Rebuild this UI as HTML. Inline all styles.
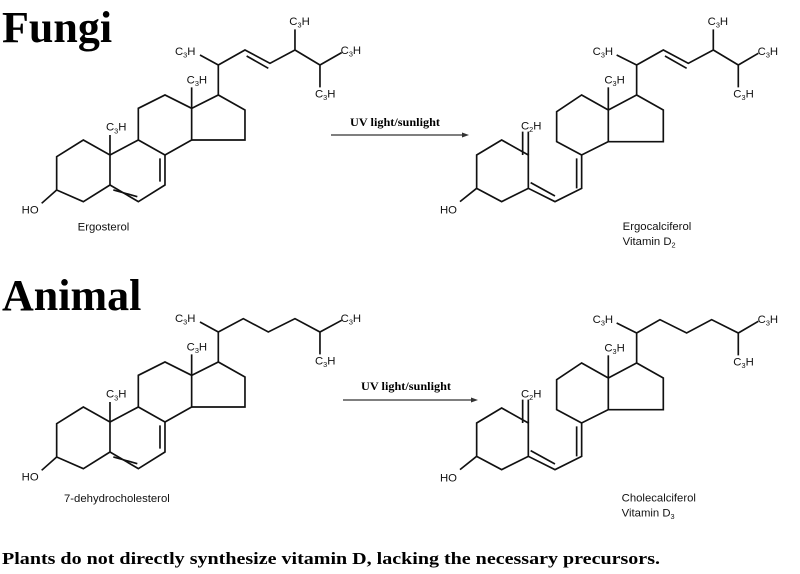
<!DOCTYPE html>
<html><head><meta charset="utf-8"><style>
html,body{margin:0;padding:0;background:#fff}
svg{display:block}
.l{font-family:"Liberation Sans",sans-serif;font-size:34px;fill:#111}
.s{font-size:22px}
.b{font-family:"Liberation Serif",serif;font-weight:bold;fill:#000}
path{fill:none;stroke:#111;stroke-width:5;stroke-linejoin:miter}
</style></head><body>
<svg width="800" height="574" viewBox="0 0 800 574" xmlns="http://www.w3.org/2000/svg">
<rect width="800" height="574" fill="#fff"/>
<text class="b" x="2" y="42" font-size="44">Fungi</text>
<text class="b" x="2" y="310" font-size="44">Animal</text>
<text class="b" x="2" y="564" font-size="17" textLength="658" lengthAdjust="spacingAndGlyphs">Plants do not directly synthesize vitamin D, lacking the necessary precursors.</text>

<!-- arrows -->
<text class="b" x="350" y="126" font-size="11.5" textLength="90" lengthAdjust="spacingAndGlyphs">UV light/sunlight</text>
<line x1="331" y1="135" x2="464" y2="135" stroke="#333" stroke-width="1.2"/>
<polygon points="469,135 462,132.5 462,137.5" fill="#333"/>
<text class="b" x="361" y="390" font-size="11.5" textLength="90" lengthAdjust="spacingAndGlyphs">UV light/sunlight</text>
<line x1="343" y1="400" x2="473" y2="400" stroke="#333" stroke-width="1.2"/>
<polygon points="478,400 471,397.5 471,402.5" fill="#333"/>

<!-- Ergosterol -->
<g transform="scale(0.3333)">
<path d="M170,470 L250,420 L330,465 L330,555 L250,605 L170,570 Z"/>
<path d="M170,570 L125,610"/>
<path d="M330,465 L415,420 L495,465 L495,555 L415,605 L330,555"/>
<path d="M340,570 L412,590 M480,475 L480,545"/>
<path d="M415,420 L415,325 L495,285 L575,325 L575,420 L495,465"/>
<path d="M575,325 L655,285 L735,330 L735,420 L575,420"/>
<path d="M575,325 L575,262 M330,465 L330,405"/>
<path d="M655,285 L655,195 L600,165 M655,195 L735,150 L810,190 L885,150 L885,88 M885,150 L960,195 L1025,158 M960,195 L960,262"/>
<path d="M740,168 L805,205"/>
<text class="l" x="65" y="640">HO</text>
<text class="l" x="318" y="392">C<tspan class="s" dy="8">3</tspan><tspan dy="-8">H</tspan></text>
<text class="l" x="560" y="250">C<tspan class="s" dy="8">3</tspan><tspan dy="-8">H</tspan></text>
<text class="l" x="525" y="165">C<tspan class="s" dy="8">3</tspan><tspan dy="-8">H</tspan></text>
<text class="l" x="868" y="75">C<tspan class="s" dy="8">3</tspan><tspan dy="-8">H</tspan></text>
<text class="l" x="1022" y="162">C<tspan class="s" dy="8">3</tspan><tspan dy="-8">H</tspan></text>
<text class="l" x="945" y="292">C<tspan class="s" dy="8">3</tspan><tspan dy="-8">H</tspan></text>
<text class="l" x="233" y="692">Ergosterol</text>
</g>

<!-- Ergocalciferol -->
<g transform="translate(400,0) scale(0.3333)">
<path d="M230,465 L305,420 L385,465 L385,565 L305,605 L230,565 Z"/>
<path d="M230,565 L180,605"/>
<path d="M385,465 L385,395 M368,465 L368,395"/>
<path d="M385,565 L465,605 L545,565 L545,465"/>
<path d="M392,548 L465,588 M530,565 L530,475"/>
<path d="M545,465 L470,425 L470,335 L545,285 L625,330 L625,425 Z"/>
<path d="M625,330 L710,285 L790,330 L790,425 L625,425"/>
<path d="M625,330 L625,262"/>
<path d="M710,285 L710,195 L650,165 M710,195 L790,150 L865,190 L940,150 L940,88 M940,150 L1015,195 L1075,160 M1015,195 L1015,262"/>
<path d="M795,168 L860,205"/>
<text class="l" x="120" y="640">HO</text>
<text class="l" x="363" y="388">C<tspan class="s" dy="8">2</tspan><tspan dy="-8">H</tspan></text>
<text class="l" x="613" y="250">C<tspan class="s" dy="8">3</tspan><tspan dy="-8">H</tspan></text>
<text class="l" x="578" y="165">C<tspan class="s" dy="8">3</tspan><tspan dy="-8">H</tspan></text>
<text class="l" x="923" y="75">C<tspan class="s" dy="8">3</tspan><tspan dy="-8">H</tspan></text>
<text class="l" x="1073" y="165">C<tspan class="s" dy="8">3</tspan><tspan dy="-8">H</tspan></text>
<text class="l" x="1000" y="292">C<tspan class="s" dy="8">3</tspan><tspan dy="-8">H</tspan></text>
<text class="l" x="668" y="690">Ergocalciferol</text>
<text class="l" x="668" y="735">Vitamin D<tspan class="s" dy="8">2</tspan></text>
</g>

<!-- 7-dehydrocholesterol -->
<g transform="translate(0,267) scale(0.3333)">
<path d="M170,470 L250,420 L330,465 L330,555 L250,605 L170,570 Z"/>
<path d="M170,570 L125,610"/>
<path d="M330,465 L415,420 L495,465 L495,555 L415,605 L330,555"/>
<path d="M340,570 L412,590 M480,475 L480,545"/>
<path d="M415,420 L415,325 L495,285 L575,325 L575,420 L495,465"/>
<path d="M575,325 L655,285 L735,330 L735,420 L575,420"/>
<path d="M575,325 L575,262 M330,465 L330,405"/>
<path d="M655,285 L655,195 L600,165 M655,195 L730,155 L805,195 L885,155 L960,195 L1025,160 M960,195 L960,262"/>
<text class="l" x="65" y="640">HO</text>
<text class="l" x="318" y="392">C<tspan class="s" dy="8">3</tspan><tspan dy="-8">H</tspan></text>
<text class="l" x="560" y="250">C<tspan class="s" dy="8">3</tspan><tspan dy="-8">H</tspan></text>
<text class="l" x="525" y="165">C<tspan class="s" dy="8">3</tspan><tspan dy="-8">H</tspan></text>
<text class="l" x="1022" y="165">C<tspan class="s" dy="8">3</tspan><tspan dy="-8">H</tspan></text>
<text class="l" x="945" y="292">C<tspan class="s" dy="8">3</tspan><tspan dy="-8">H</tspan></text>
<text class="l" x="192" y="705">7-dehydrocholesterol</text>
</g>

<!-- Cholecalciferol -->
<g transform="translate(400,268) scale(0.3333)">
<path d="M230,465 L305,420 L385,465 L385,565 L305,605 L230,565 Z"/>
<path d="M230,565 L180,605"/>
<path d="M385,465 L385,395 M368,465 L368,395"/>
<path d="M385,565 L465,605 L545,565 L545,465"/>
<path d="M392,548 L465,588 M530,565 L530,475"/>
<path d="M545,465 L470,425 L470,335 L545,285 L625,330 L625,425 Z"/>
<path d="M625,330 L710,285 L790,330 L790,425 L625,425"/>
<path d="M625,330 L625,262"/>
<path d="M710,285 L710,195 L650,165 M710,195 L780,155 L860,195 L935,155 L1015,195 L1075,160 M1015,195 L1015,262"/>
<text class="l" x="120" y="640">HO</text>
<text class="l" x="363" y="388">C<tspan class="s" dy="8">2</tspan><tspan dy="-8">H</tspan></text>
<text class="l" x="613" y="250">C<tspan class="s" dy="8">3</tspan><tspan dy="-8">H</tspan></text>
<text class="l" x="578" y="165">C<tspan class="s" dy="8">3</tspan><tspan dy="-8">H</tspan></text>
<text class="l" x="1073" y="165">C<tspan class="s" dy="8">3</tspan><tspan dy="-8">H</tspan></text>
<text class="l" x="1000" y="292">C<tspan class="s" dy="8">3</tspan><tspan dy="-8">H</tspan></text>
<text class="l" x="665" y="700">Cholecalciferol</text>
<text class="l" x="665" y="745">Vitamin D<tspan class="s" dy="8">3</tspan></text>
</g>
</svg>
</body></html>
